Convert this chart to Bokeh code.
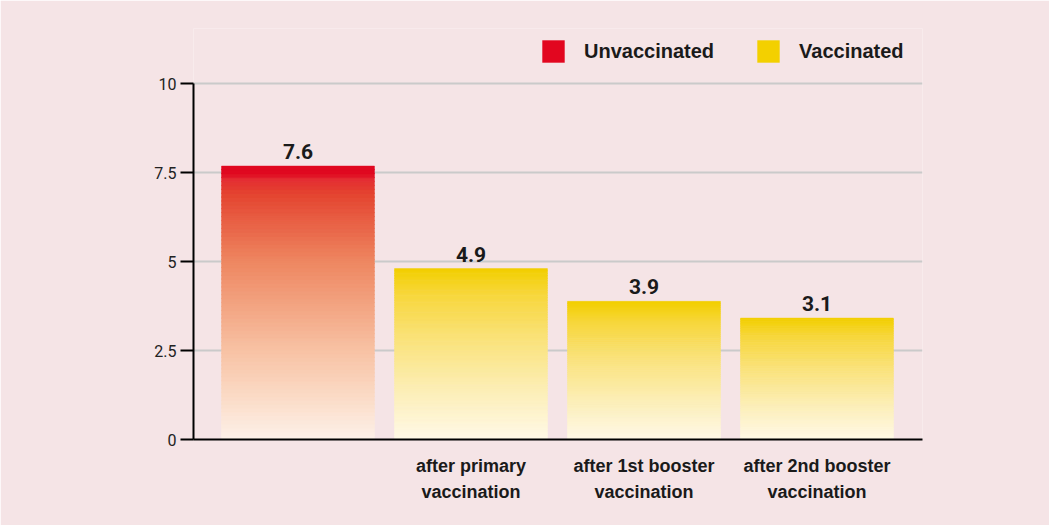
from bokeh.plotting import figure
from bokeh.models import (Range1d, FixedTicker, Legend, LegendItem, ColumnDataSource)
from bokeh.core.properties import value
from bokeh.embed import file_html
from bokeh.resources import INLINE

# ---- data ----
categories = ["", "after primary\nvaccination", "after 1st booster\nvaccination",
              "after 2nd booster\nvaccination"]
groups = ["Unvaccinated", "Vaccinated", "Vaccinated", "Vaccinated"]
bar_values = [7.68, 4.80, 3.88, 3.41]
value_labels = ["7.6", "4.9", "3.9", "3.1"]
y_ticks = [0, 2.5, 5, 7.5, 10]
y_tick_labels = ["0", "2.5", "5", "7.5", "10"]
legend_labels = ["Unvaccinated", "Vaccinated"]

# ---- styles ----
BG = "#f5e4e6"
RED = "#e2061f"
YEL = "#f3d000"
LABEL_FONT = "'Liberation Sans', Arial, sans-serif"
red_stops = [(0.0, (224, 8, 32)), (0.03, (224, 8, 32)), (0.05, (228, 45, 50)),
             (0.1, (228, 68, 48)), (0.35, (238, 135, 97)), (0.68, (248, 195, 165)),
             (0.85, (251, 220, 200)), (1.0, (253, 241, 233))]
yel_stops = [(0.0, (242, 207, 0)), (0.15, (247, 215, 60)), (0.4, (250, 226, 120)),
             (0.7, (252, 238, 180)), (1.0, (255, 249, 232))]


def interp(stops, f):
    for (f0, c0), (f1, c1) in zip(stops[:-1], stops[1:]):
        if f0 <= f <= f1:
            t = 0 if f1 == f0 else (f - f0) / (f1 - f0)
            c = [round(a + (b - a) * t) for a, b in zip(c0, c1)]
            return "#%02x%02x%02x" % tuple(c)
    c = stops[-1][1]
    return "#%02x%02x%02x" % c


N = 70
xs = list(range(len(categories)))
sx, sb, st, sc = [], [], [], []
for i, v in enumerate(bar_values):
    stops = red_stops if groups[i] == "Unvaccinated" else yel_stops
    for k in range(N):
        b = v * k / N
        t = v * (k + 1) / N + v * 0.002
        f = 1 - (k + 0.5) / N
        sx.append(xs[i]); sb.append(b); st.append(min(t, v)); sc.append(interp(stops, f))
slices = ColumnDataSource(dict(x=sx, bottom=sb, top=st, color=sc))

p = figure(width=1049, height=525, output_backend="svg", toolbar_location=None,
           x_range=Range1d(-0.604, 3.61), y_range=Range1d(0, 11.545),
           min_border_left=193, min_border_right=127, min_border_top=28,
           min_border_bottom=86)
p.background_fill_color = BG
p.border_fill_color = BG
p.outline_line_color = None

# grid
p.xgrid.visible = False
p.ygrid.ticker = FixedTicker(ticks=y_ticks)
p.ygrid.grid_line_color = "#cacaca"
p.ygrid.grid_line_width = 2

# bars (gradient via slices)
p.vbar(x="x", bottom="bottom", top="top", width=0.884, source=slices,
       fill_color="color", line_color="color", line_width=0.5)

# value labels
p.text(x=xs, y=bar_values, text=value_labels, text_align="center",
       text_baseline="bottom", y_offset=-7, text_font=value("Roboto"),
       text_font_style="bold", text_font_size="21px", text_color="#1a1a1a")

# axes
ya = p.yaxis[0]
ya.ticker = FixedTicker(ticks=y_ticks)
ya.bounds = (0, 10)
ya.major_label_overrides = {t: l for t, l in zip(y_ticks, y_tick_labels)}
ya.axis_line_color = "black"
ya.axis_line_width = 2
ya.major_tick_line_color = "black"
ya.major_tick_line_width = 2
ya.major_tick_out = 13
ya.major_tick_in = 0
ya.minor_tick_line_color = None
ya.major_label_standoff = 4
ya.major_label_text_font = "Roboto"
ya.major_label_text_font_size = "16px"
ya.major_label_text_color = "#222222"

xa = p.xaxis[0]
xa.ticker = FixedTicker(ticks=xs)
xa.major_label_overrides = {x: c for x, c in zip(xs, categories)}
xa.axis_line_color = "black"
xa.axis_line_width = 2
xa.major_tick_line_color = None
xa.minor_tick_line_color = None
xa.major_label_standoff = 10
xa.major_label_text_font = LABEL_FONT
xa.major_label_text_font_style = "bold"
xa.major_label_text_font_size = "18px"
xa.major_label_text_color = "#1a1a1a"
xa.major_label_text_line_height = 1.3

# legend (dummy renderers)
r_red = p.vbar(x=[float("nan")], top=[float("nan")], width=0.5, fill_color=RED, line_color=None)
r_yel = p.vbar(x=[float("nan")], top=[float("nan")], width=0.5, fill_color=YEL, line_color=None)
legend = Legend(items=[LegendItem(label=legend_labels[0], renderers=[r_red]),
                       LegendItem(label=legend_labels[1], renderers=[r_yel])],
                location=(346, 374), orientation="horizontal",
                glyph_width=28, glyph_height=28, label_standoff=17, spacing=40,
                padding=0, margin=0, background_fill_alpha=0, border_line_alpha=0,
                label_text_font=LABEL_FONT,
                label_text_font_style="bold", label_text_font_size="20px",
                label_text_color="#1a1a1a")
p.add_layout(legend, "center")

open("out.html", "w").write(file_html(p, INLINE))
